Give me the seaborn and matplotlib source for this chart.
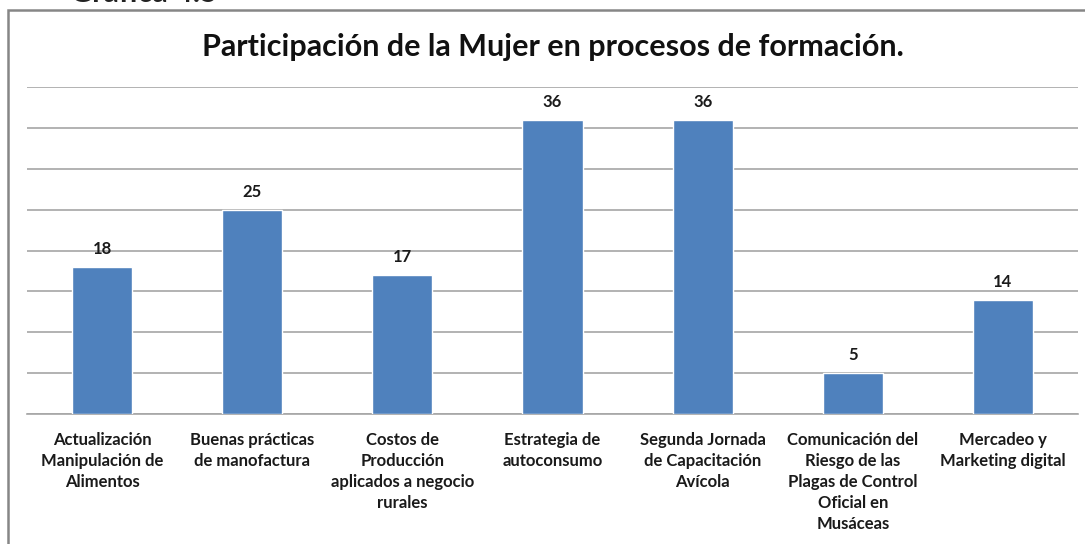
import numpy as np
import pandas as pd
import matplotlib.pyplot as plt
import matplotlib.patches as mpatches
import seaborn as sns

categorias = [
    "Actualización\nManipulación de\nAlimentos",
    "Buenas prácticas\nde manofactura",
    "Costos de\nProducción\naplicados a negocio\nrurales",
    "Estrategia de\nautoconsumo",
    "Segunda Jornada\nde Capacitación\nAvícola",
    "Comunicación del\nRiesgo de las\nPlagas de Control\nOficial en\nMusáceas",
    "Mercadeo y\nMarketing digital",
]
participantes = [18, 25, 17, 36, 36, 5, 14]
titulo = "Participación de la Mujer en procesos de formación."
encabezado = "Gráfica 4.5"

sns.set_theme(style="white")
plt.rcParams["font.family"] = ["Lato", "DejaVu Sans"]

df = pd.DataFrame({"curso": categorias, "mujeres": participantes})

fig = plt.figure(figsize=(10.85, 5.44), dpi=100)
ax = fig.add_axes([27 / 1085, 1 - 414 / 544, 1051 / 1085, 327 / 544])

sns.barplot(data=df, x="curso", y="mujeres", color="#4F81BD", saturation=1,
            width=0.4, ax=ax, zorder=3)

ax.set_ylim(0, 40)
ax.set_yticks(np.arange(0, 41, 5))
ax.yaxis.grid(True, color="#A6A6A6", linewidth=1.2, zorder=0)
ax.tick_params(axis="y", left=False, labelleft=False)
ax.tick_params(axis="x", bottom=False, pad=7)
ax.set_xlabel("")
ax.set_ylabel("")
for side in ["top", "right", "left"]:
    ax.spines[side].set_visible(False)
ax.spines["bottom"].set_color("#A6A6A6")
ax.spines["bottom"].set_linewidth(1.2)

for lbl in ax.get_xticklabels():
    lbl.set_fontsize(12)
    lbl.set_fontweight("bold")
    lbl.set_linespacing(1.38)
    lbl.set_color("#1a1a1a")
    lbl.set_verticalalignment("top")

ax.bar_label(ax.containers[0], padding=7, fontsize=12, fontweight="bold", color="#1a1a1a")

fig.text(553 / 1085, 1 - 47 / 544, titulo, ha="center", va="center",
         fontsize=22, fontweight="bold", color="#111111")

# marco del gráfico
frame = mpatches.Rectangle((8 / 1085, -0.1), 1.2, 0.1 + (1 - 10 / 544),
                           transform=fig.transFigure, fill=False,
                           edgecolor="#868686", linewidth=1.8)
fig.patches.append(frame)

# encabezado recortado en la parte superior, como en el original
fig.text(70 / 1085, 1 - 2 / 544, encabezado, ha="left", va="baseline",
         fontsize=22, fontweight="bold", color="#222222")

fig.savefig("out.png", dpi=100)
